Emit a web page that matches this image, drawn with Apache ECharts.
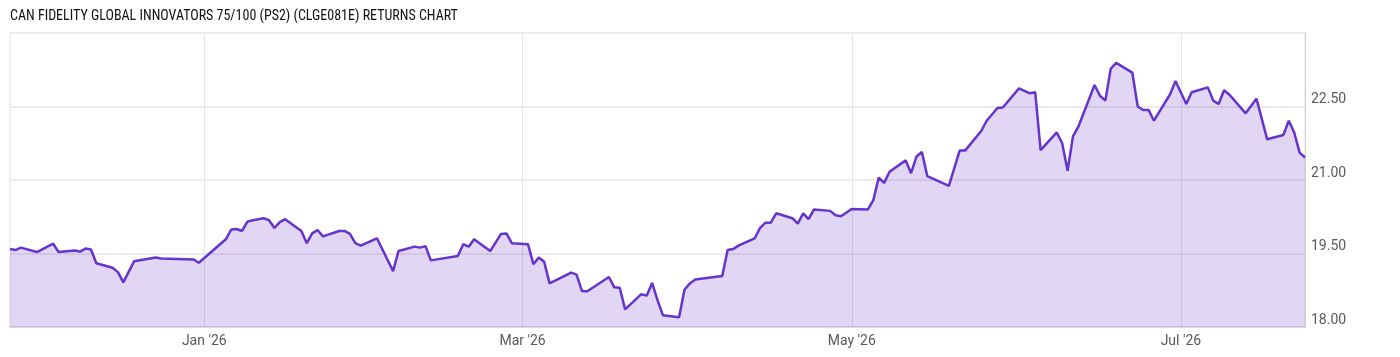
<!DOCTYPE html>
<html>
<head>
<meta charset="utf-8">
<script src="https://cdn.jsdelivr.net/npm/echarts@6/dist/echarts.min.js"></script>
<style>
html,body{margin:0;padding:0;background:#fff;}
#chart{width:1400px;height:357px;}
</style>
</head>
<body>
<div id="chart"></div>
<script>
const title = "CAN FIDELITY GLOBAL INNOVATORS 75/100 (PS2) (CLGE081E) RETURNS CHART";

const dates = [
"2025-11-26","2025-11-27","2025-11-28","2025-12-01","2025-12-04","2025-12-05","2025-12-08","2025-12-09","2025-12-10","2025-12-11",
"2025-12-12","2025-12-15","2025-12-16","2025-12-17","2025-12-19","2025-12-23","2025-12-24","2025-12-30","2025-12-31",
"2026-01-05","2026-01-06","2026-01-07","2026-01-08","2026-01-09","2026-01-10","2026-01-12","2026-01-13","2026-01-14","2026-01-15","2026-01-16",
"2026-01-19","2026-01-20","2026-01-21","2026-01-22","2026-01-23","2026-01-26","2026-01-27","2026-01-28","2026-01-29","2026-01-30",
"2026-02-02","2026-02-05","2026-02-06","2026-02-09","2026-02-10","2026-02-11","2026-02-12","2026-02-17","2026-02-18","2026-02-19","2026-02-20",
"2026-02-23","2026-02-25","2026-02-26","2026-02-27","2026-03-02","2026-03-03","2026-03-04","2026-03-05","2026-03-06",
"2026-03-10","2026-03-11","2026-03-12","2026-03-13","2026-03-17","2026-03-18","2026-03-19","2026-03-20","2026-03-23","2026-03-24",
"2026-03-25","2026-03-26","2026-03-27","2026-03-30","2026-03-31","2026-04-01","2026-04-02","2026-04-07","2026-04-08","2026-04-09","2026-04-10",
"2026-04-13","2026-04-14","2026-04-15","2026-04-16","2026-04-17","2026-04-20","2026-04-21","2026-04-22","2026-04-23","2026-04-24",
"2026-04-27","2026-04-28","2026-04-29","2026-05-01","2026-05-04","2026-05-05","2026-05-06","2026-05-07","2026-05-08",
"2026-05-11","2026-05-12","2026-05-13","2026-05-14","2026-05-15","2026-05-19","2026-05-21","2026-05-22","2026-05-25","2026-05-26","2026-05-28","2026-05-29",
"2026-06-01","2026-06-03","2026-06-04","2026-06-05","2026-06-08","2026-06-09","2026-06-10","2026-06-11","2026-06-12",
"2026-06-15","2026-06-16","2026-06-17","2026-06-18","2026-06-19","2026-06-22","2026-06-23","2026-06-24","2026-06-25","2026-06-26",
"2026-06-29","2026-06-30","2026-07-02","2026-07-03","2026-07-06","2026-07-07","2026-07-08","2026-07-09","2026-07-10",
"2026-07-13","2026-07-15","2026-07-17","2026-07-20","2026-07-21","2026-07-22","2026-07-23","2026-07-24"
];

const prices = [
19.59,19.57,19.62,19.53,19.70,19.53,19.56,19.54,19.60,19.58,
19.30,19.21,19.12,18.91,19.34,19.42,19.40,19.38,19.31,
19.79,19.99,20.00,19.96,20.15,20.18,20.22,20.18,20.02,20.14,20.20,
19.96,19.71,19.91,19.98,19.85,19.96,19.96,19.90,19.71,19.66,
19.81,19.14,19.55,19.64,19.62,19.65,19.36,19.45,19.69,19.64,19.79,
19.55,19.90,19.91,19.71,19.69,19.28,19.42,19.33,18.89,
19.11,19.07,18.73,18.73,19.02,18.81,18.80,18.36,18.67,18.64,
18.90,18.55,18.24,18.20,18.76,18.89,18.97,19.04,19.57,19.59,19.66,
19.81,20.02,20.13,20.13,20.32,20.22,20.11,20.32,20.20,20.40,
20.37,20.28,20.26,20.41,20.40,20.59,21.05,20.94,21.17,
21.40,21.14,21.48,21.57,21.08,20.88,21.60,21.60,22.00,22.21,22.47,22.48,
22.87,22.77,22.79,21.61,21.97,21.75,21.19,21.89,22.09,
22.94,22.72,22.62,23.27,23.39,23.19,22.50,22.43,22.43,22.21,
22.75,23.02,22.55,22.79,22.89,22.62,22.55,22.83,22.74,
22.36,22.66,21.83,21.92,22.21,21.97,21.56,21.46
];

const xTickDates = ["2026-01-01","2026-03-01","2026-05-01","2026-07-01"];
const xTickLabels = ["Jan '26","Mar '26","May '26","Jul '26"];
const yTicks = [18, 19.5, 21, 22.5];

const toTime = d => new Date(d + "T00:00:00").getTime();
const xTickTimes = xTickDates.map(toTime);
const seriesData = dates.map((d, i) => [toTime(d), prices[i]]);

const chart = echarts.init(document.getElementById('chart'), null, {renderer: 'canvas'});
chart.setOption({
  animation: false,
  backgroundColor: '#fff',
  title: {
    text: title,
    left: 10, top: 9, padding: 0,
    textStyle: {fontFamily: "'Roboto Condensed', 'Liberation Sans Narrow', 'DejaVu Sans Condensed', Roboto, sans-serif", fontSize: 14, fontWeight: 'normal', color: '#111'}
  },
  grid: {left: 10, right: 95, top: 33, bottom: 30, show: true, borderColor: '#e2e2e2', borderWidth: 1, containLabel: false},
  xAxis: {
    type: 'value',
    min: seriesData[0][0],
    max: seriesData[seriesData.length - 1][0],
    axisLine: {show: true, lineStyle: {color: '#dcdcdc', width: 2}},
    axisTick: {show: false, customValues: xTickTimes},
    splitLine: {show: true, customValues: xTickTimes, lineStyle: {color: '#e4e4e4', width: 1}},
    axisLabel: {
      customValues: xTickTimes,
      formatter: function (v) { const i = xTickTimes.indexOf(v); return i >= 0 ? xTickLabels[i] : ''; },
      color: '#5a5a5a', fontSize: 14, fontFamily: 'Roboto, sans-serif', margin: 7
    }
  },
  yAxis: {
    type: 'value',
    position: 'right',
    min: 18, max: 24, interval: 1.5,
    axisLine: {show: true, lineStyle: {color: '#cfcfcf', width: 1}},
    axisTick: {show: false},
    splitLine: {show: true, lineStyle: {color: '#ececec', width: 2}},
    axisLabel: {
      showMaxLabel: false,
      formatter: function (v) { return yTicks.indexOf(v) >= 0 ? v.toFixed(2) : ''; },
      color: '#5a5a5a', fontSize: 14, fontFamily: 'Roboto, sans-serif', margin: 6,
      verticalAlign: 'bottom', lineHeight: 14
    }
  },
  series: [{
    type: 'line',
    data: seriesData,
    showSymbol: false,
    symbol: 'none',
    lineStyle: {color: '#6633cc', width: 2.5},
    areaStyle: {color: 'rgba(102,51,204,0.28)', origin: 'start'},
    z: 3
  }]
});
</script>
</body>
</html>
